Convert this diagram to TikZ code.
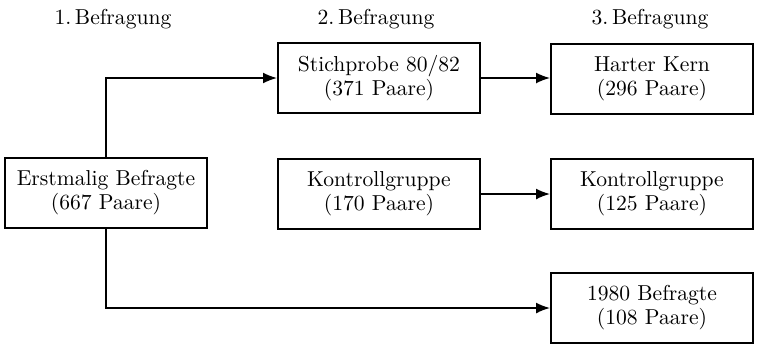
\documentclass[tikz,border=0pt]{standalone}
\usepackage{tikz}
\usetikzlibrary{arrows.meta, positioning, calc}
\usepackage{xcolor}

\begin{document}
\begin{tikzpicture}[x=0.5pt, y=-0.5pt,
    box/.style={rectangle, draw, line width=1pt, minimum width=101pt, minimum height=35pt, align=center, inner sep=2pt, font=\fontsize{10.8}{12}\selectfont},
    head/.style={font=\fontsize{10.8}{12}\selectfont},
    arr/.style={line width=0.8pt, -{Latex[length=7pt, width=5.5pt]}}]
  \useasboundingbox (0,0) rectangle (760,343);

  \node[head] (h1) at (113,19) {1.\,Befragung};
  \node[head] (h2) at (376,19) {2.\,Befragung};
  \node[head] (h3) at (650,19) {3.\,Befragung};

  \node[box] (Erst) at (106,193) {Erstmalig Befragte\\(667 Paare)};
  \node[box] (Stich) at (379,78) {Stichprobe 80/82\\(371 Paare)};
  \node[box] (Kern) at (652,79) {Harter Kern\\(296 Paare)};
  \node[box] (KontrA) at (379,194) {Kontrollgruppe\\(170 Paare)};
  \node[box] (KontrB) at (652,194) {Kontrollgruppe\\(125 Paare)};
  \node[box] (Befr80) at (652,308) {1980 Befragte\\(108 Paare)};

  \draw[arr] (Erst.north) |- (Stich.west);
  \draw[arr] (Erst.south) |- (Befr80.west);
  \draw[arr] (Stich.east) -- (Stich.east -| Kern.west);
  \draw[arr] (KontrA.east) -- (KontrB.west);
\end{tikzpicture}
\end{document}
